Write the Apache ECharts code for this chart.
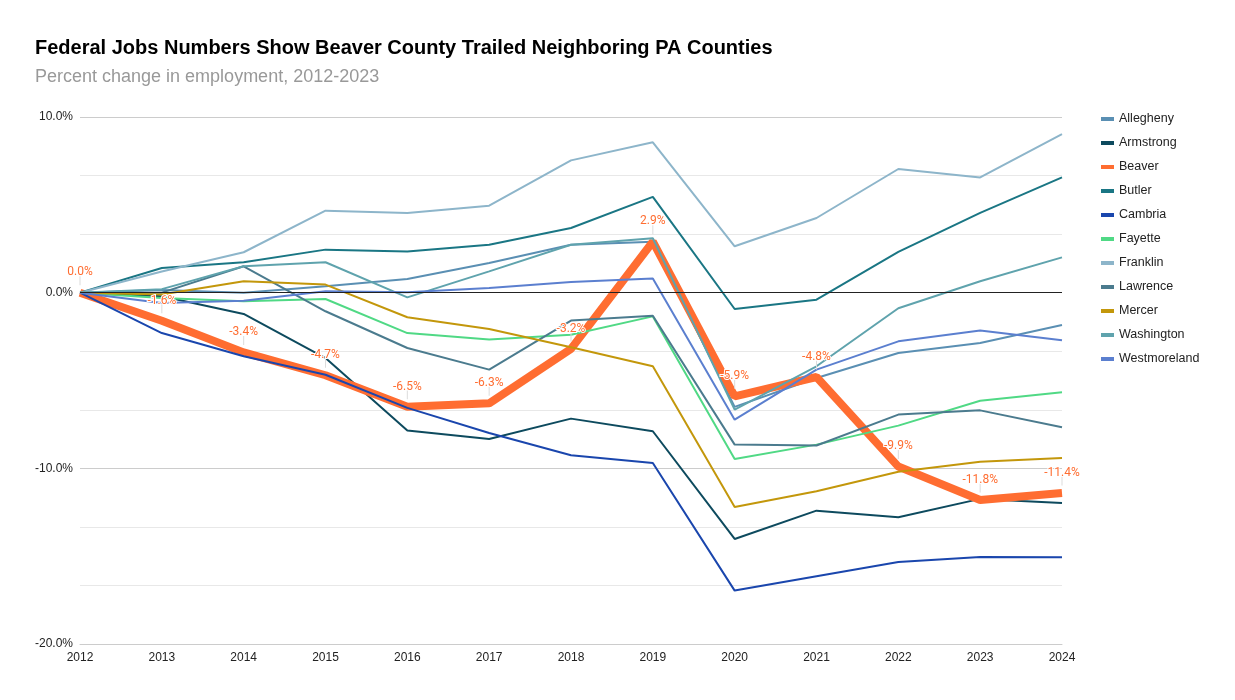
<!DOCTYPE html>
<html>
<head>
<meta charset="utf-8">
<script src="https://cdn.jsdelivr.net/npm/echarts@6/dist/echarts.min.js"></script>
<style>
html,body{margin:0;padding:0;background:#fff;}
#chart{width:1235px;height:700px;}
</style>
</head>
<body>
<div id="chart"></div>
<script>
const years = ['2012','2013','2014','2015','2016','2017','2018','2019','2020','2021','2022','2023','2024'];
const countyNames = ['Allegheny','Armstrong','Beaver','Butler','Cambria','Fayette','Franklin','Lawrence','Mercer','Washington','Westmoreland'];
const allegheny    = [0, 0.15, 0.0, 0.36, 0.78, 1.69, 2.73, 2.9, -6.5, -4.86, -3.43, -2.86, -1.84];
const armstrong    = [0, -0.2, -1.21, -3.72, -7.85, -8.33, -7.17, -7.89, -14.02, -12.41, -12.79, -11.74, -11.97];
const beaver       = [0, -1.6, -3.4, -4.7, -6.5, -6.3, -3.2, 2.9, -5.9, -4.8, -9.9, -11.8, -11.4];
const butler       = [0, 1.4, 1.73, 2.45, 2.35, 2.73, 3.68, 5.45, -0.93, -0.4, 2.32, 4.54, 6.56];
const cambria      = [0, -2.3, -3.62, -4.67, -6.56, -7.99, -9.26, -9.7, -16.96, -16.14, -15.33, -15.05, -15.06];
const fayette      = [0, -0.3, -0.49, -0.36, -2.3, -2.67, -2.39, -1.35, -9.47, -8.65, -7.57, -6.15, -5.67];
const franklin     = [0, 1.21, 2.3, 4.67, 4.54, 4.95, 7.53, 8.56, 2.64, 4.25, 7.04, 6.56, 9.03];
const lawrence     = [0, 0.0, 1.5, -1.06, -3.15, -4.38, -1.59, -1.31, -8.65, -8.7, -6.94, -6.7, -7.66];
const mercer       = [0, -0.1, 0.65, 0.46, -1.4, -2.07, -3.11, -4.19, -12.2, -11.31, -10.2, -9.62, -9.41];
const washington   = [0, 0.2, 1.5, 1.73, -0.27, 1.21, 2.73, 3.1, -6.66, -4.19, -0.89, 0.65, 2.01];
const westmoreland = [0, -0.59, -0.46, 0.08, 0.02, 0.27, 0.61, 0.8, -7.23, -4.38, -2.77, -2.16, -2.71];
const yTicks = [-20, -10, 0, 10];

const values = [allegheny, armstrong, beaver, butler, cambria, fayette, franklin, lawrence, mercer, washington, westmoreland];
const colors = ['#5a8fb3','#0d4a5e','#ff6d31','#1a7684','#1a46ad','#50d985','#8db5ca','#4b7b8e','#c3970b','#5fa3ad','#5b7fcf'];

const series = countyNames.map((name, i) => {
  const isBeaver = name === 'Beaver';
  const s = {
    name: name,
    type: 'line',
    data: values[i],
    symbol: 'none',
    smooth: false,
    lineStyle: { width: isBeaver ? 8 : 2, color: colors[i] },
    itemStyle: { color: colors[i] },
    emphasis: { disabled: true },
    z: 2
  };
  if (i === 0) {
    s.markLine = {
      silent: true,
      symbol: 'none',
      label: { show: false },
      lineStyle: { color: '#222', width: 1, type: 'solid' },
      data: [{ yAxis: 0 }]
    };
  }
  return s;
});

// label layer for Beaver, drawn above all lines
series.push({
  name: 'Beaver',
  type: 'line',
  data: beaver,
  symbol: 'circle',
  symbolSize: 0.5,
  showSymbol: true,
  lineStyle: { width: 0, opacity: 0 },
  itemStyle: { color: 'rgba(0,0,0,0)' },
  emphasis: { disabled: true },
  silent: true,
  z: 10,
  label: {
    show: true,
    position: 'top',
    distance: 14,
    color: '#ff6d31',
    fontSize: 12,
    fontFamily: 'Roboto, Arial, sans-serif',
    textBorderColor: '#fff',
    textBorderWidth: 2,
    formatter: p => p.value.toFixed(1) + '%'
  },
  markPoint: {
    silent: true,
    symbol: 'rect',
    symbolSize: [1, 9],
    symbolOffset: [0, -12],
    itemStyle: { color: '#dcdcdc' },
    label: { show: false },
    data: beaver.map((v, i) => ({ coord: [i, v] }))
  }
});

const chart = echarts.init(document.getElementById('chart'));
chart.setOption({
  animation: false,
  backgroundColor: '#fff',
  color: colors,
  title: {
    text: 'Federal Jobs Numbers Show Beaver County Trailed Neighboring PA Counties',
    subtext: 'Percent change in employment, 2012-2023',
    left: 30,
    top: 33,
    itemGap: 10,
    textStyle: { fontFamily: 'Liberation Sans, Arial, sans-serif', fontSize: 20, fontWeight: 'bold', color: '#000' },
    subtextStyle: { fontFamily: 'Liberation Sans, Arial, sans-serif', fontSize: 18, color: '#999' }
  },
  legend: {
    orient: 'vertical',
    left: 1096,
    top: 107,
    icon: 'rect',
    itemWidth: 13,
    itemHeight: 4,
    itemGap: 10,
    textStyle: { fontFamily: 'Liberation Sans, Arial, sans-serif', fontSize: 12.5, color: '#222', lineHeight: 14 },
    data: countyNames
  },
  grid: { left: 80, right: 173, top: 117, bottom: 56, containLabel: false },
  xAxis: {
    type: 'category',
    data: years,
    boundaryGap: false,
    axisLine: { onZero: false, lineStyle: { color: '#ccc' } },
    axisTick: { show: false },
    axisLabel: { color: '#222', fontSize: 12, fontFamily: 'Liberation Sans, Arial, sans-serif', margin: 8 },
    splitLine: { show: false }
  },
  yAxis: {
    type: 'value',
    min: yTicks[0],
    max: yTicks[yTicks.length - 1],
    interval: 10,
    axisLine: { show: false },
    axisTick: { show: false },
    axisLabel: { color: '#222', fontSize: 12, fontFamily: 'Liberation Sans, Arial, sans-serif', margin: 7,
      formatter: v => v.toFixed(1) + '%' },
    splitLine: { show: true, lineStyle: { color: '#ccc', width: 1 } },
    minorTick: { show: false, splitNumber: 3 },
    minorSplitLine: { show: true, lineStyle: { color: '#e8e8e8', width: 1 } }
  },
  series: series
});
</script>
</body>
</html>
